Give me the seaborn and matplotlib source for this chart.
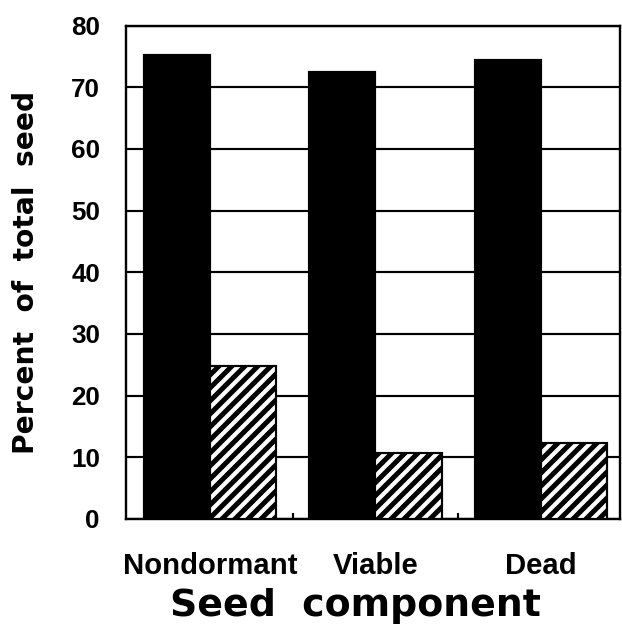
import pandas as pd
import matplotlib.pyplot as plt
import seaborn as sns

# values
components = ["Nondormant", "Viable", "Dead"]
series = ["solid", "hatched"]
solid_pct = [75.2, 72.5, 74.4]
hatched_pct = [24.8, 10.7, 12.3]

df = pd.DataFrame({
    "Component": components * 2,
    "Series": [series[0]] * 3 + [series[1]] * 3,
    "Percent": solid_pct + hatched_pct,
})

sns.set_style("white")
plt.rcParams["font.family"] = ["Liberation Sans", "DejaVu Sans"]
plt.rcParams["font.weight"] = "bold"
plt.rcParams["hatch.linewidth"] = 4.6
plt.rcParams["hatch.color"] = "black"
for key in ["text.color", "axes.labelcolor", "xtick.color", "ytick.color"]:
    plt.rcParams[key] = "black"

DPI = 78
fig = plt.figure(figsize=(622 / DPI, 628 / DPI), dpi=DPI)
ax = fig.add_axes([126 / 622, 1 - 519 / 628, 494 / 622, 493.5 / 628])

sns.barplot(data=df, x="Component", y="Percent", hue="Series",
            palette=["black", "white"], edgecolor="black", linewidth=2,
            legend=False, ax=ax, zorder=3)

for bar in ax.containers[1]:
    bar.set_hatch("//")
    bar.set_edgecolor("black")

ax.set_ylim(0, 80)
ax.set_xlim(-0.51, 2.48)
ax.set_yticks(range(0, 81, 10))
ax.set_axisbelow(True)
ax.yaxis.grid(True, color="black", linewidth=2)
ax.xaxis.grid(False)

for side in ["left", "right", "top", "bottom"]:
    ax.spines[side].set_visible(True)
    ax.spines[side].set_color("black")
    ax.spines[side].set_linewidth(2.2)

ax.tick_params(axis="y", length=0, pad=24, labelsize=24)
ax.tick_params(axis="x", length=0, pad=30, labelsize=27)
ax.set_xticks([0.5, 1.5], minor=True)
ax.tick_params(axis="x", which="minor", direction="in", length=6, width=2, bottom=True)
for lab in ax.get_xticklabels() + ax.get_yticklabels():
    lab.set_fontweight("bold")

ax.set_xlabel("Seed  component", fontsize=35, fontweight="bold", family="DejaVu Sans")
ax.xaxis.set_label_coords(0.4636, -0.14)
ax.set_ylabel("Percent  of  total  seed", fontsize=26, fontweight="bold", family="DejaVu Sans")
ax.yaxis.set_label_coords(-0.174, 0.5)

fig.savefig("out.png", dpi=DPI, facecolor="white")
